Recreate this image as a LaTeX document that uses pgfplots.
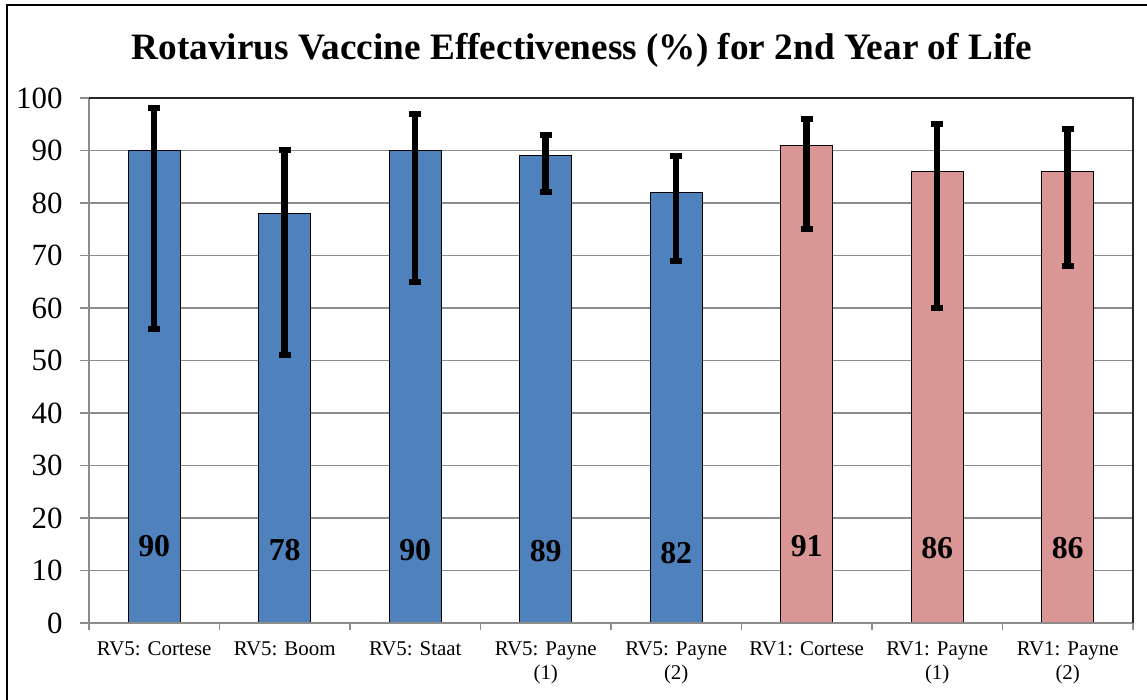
\documentclass[border=0pt]{standalone}
\usepackage{pgfplots}
\pgfplotsset{compat=1.18}
\usepackage{fontspec}
\setmainfont{Liberation Serif}
\definecolor{bblue}{HTML}{4F81BD}
\definecolor{bpink}{HTML}{D99694}
\definecolor{gridgray}{HTML}{8C8C8C}
\begin{document}
\begin{tikzpicture}[x=1bp,y=1bp]
\useasboundingbox (0,0) rectangle (1147,700);
\draw[line width=2bp] (7,-5) -- (7,695) -- (1152,695);
\node[font=\fontsize{37.4}{40}\selectfont\bfseries] at (582,650) {Rotavirus Vaccine Effectiveness (\%) for 2nd Year of Life};
\begin{axis}[at={(89bp,77bp)}, anchor=south west, scale only axis,
  width=1044bp, height=525bp,
  xmin=-0.5, xmax=7.5, ymin=0, ymax=100,
  ytick={0,10,...,100},
  xtick={0,...,7},
  xticklabels={RV5: Cortese, RV5: Boom, RV5: Staat, {RV5: Payne\\(1)}, {RV5: Payne\\(2)}, RV1: Cortese, {RV1: Payne\\(1)}, {RV1: Payne\\(2)}},
  minor xtick={-0.5,0.5,...,7.5},
  xtick pos=bottom, ytick pos=left,
  major x tick style={draw=none},
  minor x tick style={gridgray, line width=1.2bp},
  major y tick style={gridgray, line width=1.2bp},
  tick align=outside,
  major tick length=9bp, minor tick length=7bp,
  ymajorgrids, grid style={gridgray, line width=1.2bp},
  axis line style={draw=none},
  /pgf/number format/assume math mode=true,
  yticklabel style={font=\fontsize{31}{34}\selectfont, xshift=-14bp},
  xticklabel style={font=\fontsize{21}{24}\selectfont, align=center, yshift=-6bp},
  clip=false,
]
\addplot[ybar, bar width=0.4, fill=bblue, draw=black, line width=1.2bp,
  error bars/.cd, y dir=both, y explicit,
  error bar style={line width=6.5bp, black},
  error mark=-,
  error mark options={rotate=90, line width=6bp, mark size=6bp, black}]
  coordinates {
  (0,90) += (0,8) -= (0,34)
  (1,78) += (0,12) -= (0,27)
  (2,90) += (0,7) -= (0,25)
  (3,89) += (0,4) -= (0,7)
  (4,82) += (0,7) -= (0,13)
  };
\addplot[ybar, bar width=0.4, fill=bpink, draw=black, line width=1.2bp,
  error bars/.cd, y dir=both, y explicit,
  error bar style={line width=6.5bp, black},
  error mark=-,
  error mark options={rotate=90, line width=6bp, mark size=6bp, black}]
  coordinates {
  (5,91) += (0,5) -= (0,16)
  (6,86) += (0,9) -= (0,26)
  (7,86) += (0,8) -= (0,18)
  };
\addplot[draw=none, mark=none, nodes near coords, point meta=explicit symbolic,
  nodes near coords style={anchor=center, font=\fontsize{32}{36}\selectfont\bfseries, black}]
  coordinates {
  (0,14.7) [90]
  (1,13.9) [78]
  (2,13.9) [90]
  (3,13.7) [89]
  (4,13.4) [82]
  (5,14.7) [91]
  (6,14.3) [86]
  (7,14.3) [86]
  };
\draw[gridgray, line width=1.5bp] (rel axis cs:0,1) -- (rel axis cs:0,0) -- (rel axis cs:1,0);
\draw[black!85, line width=1.5bp] (rel axis cs:0,1) -- (rel axis cs:1,1) -- (rel axis cs:1,0);
\end{axis}
\end{tikzpicture}
\end{document}
